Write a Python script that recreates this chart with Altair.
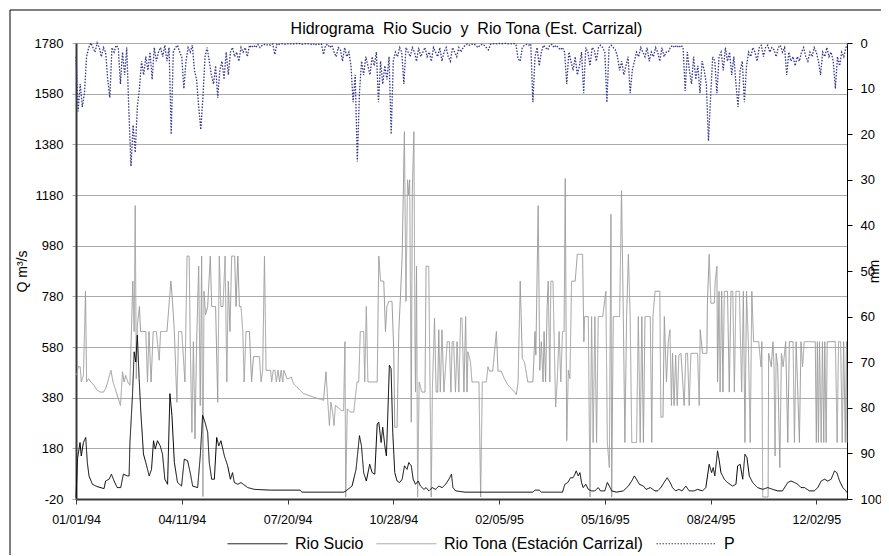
import altair as alt
import pandas as pd

INICIO = "1994-01-01"

# Rio Sucio (dia desde 01/01/94, caudal m3/s)
sucio = [(0,-15),(1.5,140),(3.8,203),(5,150),(7,203),(9.2,223),(10.7,124),(12.3,71),(15.5,38),(20,29),(26.5,21),(28,51),(31.3,58),(33.5,78),(36,51),(39,25),(42.3,25),(44.8,78),(48.6,71),(50.2,71),(51,203),(53.4,389),(55,561),(56.5,521),(58,627),(59.7,455),(61.3,323),(63.8,157),(66,124),(69.2,71),(71.4,97),(73.3,210),(74.9,177),(77,210),(79.6,190),(81.8,157),(84,58),(86.6,38),(88.8,396),(90.7,310),(93,124),(96,45),(99.8,31),(102.4,137),(105.5,131),(108,84),(110.3,31),(115,25),(117.5,150),(119.7,310),(122,283),(124.5,243),(126,124),(128.3,58),(130.8,58),(133,223),(135,190),(137,210),(140.3,150),(143.4,111),(146,58),(148,84),(149.7,45),(153,38),(156,45),(162.4,25),(168.7,18),(183.9,15),(212,15),(213.6,7),(253,7),(254.6,10),(261,31),(264.8,97),(268,230),(269.9,190),(272,84),(274.5,51),(277.7,117),(280,84),(282.5,78),(284.8,276),(286.3,283),(288.5,203),(290,263),(292,190),(293.5,150),(295,336),(296.3,508),(297.9,495),(299.5,243),(301.4,84),(303.6,51),(306,45),(308.4,58),(310.6,111),(313,97),(314.7,124),(317,111),(318.8,58),(321,38),(323.5,51),(325.7,31),(329,18),(331,25),(333.6,12),(336.8,25),(340,18),(343,31),(346.3,25),(349.5,38),(352.6,58),(355,78),(356.4,25),(359,12),(368,7),(432,7),(434,15),(438,15),(440,7),(460,7),(462.2,38),(465,45),(467.6,64),(470,64),(471.7,78),(473,91),(474.9,71),(476.5,84),(478,45),(479.6,25),(482,38),(484.4,18),(487.5,12),(490.6,12),(493.8,25),(496,12),(500,12),(502.4,45),(504.3,31),(506.5,12),(511,7),(517.5,12),(522.3,31),(525.4,51),(528,71),(530,58),(532.7,38),(536.5,31),(539,18),(543,25),(547.5,12),(549.8,12),(553,25),(556,45),(559,64),(561.8,45),(564,25),(567,12),(570,18),(573,12),(576.6,31),(579.8,12),(584.5,12),(587.7,18),(592.4,12),(595.5,25),(598.7,117),(601,84),(602.5,104),(604,71),(606.6,170),(608,137),(609.8,84),(613,58),(616,45),(620.8,31),(624,38),(625.6,111),(628,117),(630.4,58),(632.5,157),(634.4,144),(636.6,71),(639.8,45),(644.5,25),(649.3,18),(654,25),(658.8,18),(663.5,12),(668,12),(673,45),(676.1,51),(679.3,45),(682.5,38),(685.5,25),(688.8,25),(693.5,12),(698,12),(701.4,25),(704.6,51),(707.7,58),(710.9,51),(714,58),(717.2,91),(719.4,84),(722,51),(725,25),(728,12),(729,5)]

# Rio Tona, Estacion Carrizal (dia, caudal m3/s)
tona = [(0,468),(1,475),(2,502),(4,502),(5,442),(7,468),(9,800),(10,442),(12,455),(14,442),(17,429),(20,409),(23,402),(26,402),(28,416),(30,442),(33,488),(35,442),(37,416),(40,376),(42,349),(44,482),(45.5,442),(47,468),(49,442),(51,429),(52,588),(53.7,840),(55,641),(56,1138),(57,455),(58,667),(60,740),(61,641),(63,641),(66,641),(67.6,442),(69,641),(71,442),(73,641),(76,641),(78.7,528),(80,641),(83,641),(86,641),(89.7,840),(91,774),(93,641),(95.4,362),(97,641),(100,641),(103,442),(105,939),(107,939),(108,601),(109.6,243),(111,601),(112.5,217),(114,588),(116,899),(117.5,349),(118.8,939),(120,-10),(121,800),(122.5,707),(124.5,740),(127,939),(128.3,740),(132,740),(134,362),(135.5,939),(137,740),(139,740),(141,939),(142.6,442),(144,840),(145.6,641),(147.2,939),(150,939),(151.3,740),(153,939),(154.5,740),(156,740),(157.7,641),(159,442),(160.7,641),(164,641),(166,442),(167.8,542),(173.4,542),(175,442),(176.5,488),(178.2,939),(179.7,488),(184,488),(185,442),(186.5,488),(188,488),(189.5,442),(191,488),(192.5,442),(194,488),(195.5,442),(196.5,488),(197.8,475),(199.4,455),(201.5,455),(203.5,462),(205.7,435),(208.8,422),(212,409),(215.2,396),(219.9,389),(224.6,382),(229,376),(232.5,373),(234,369),(236.4,482),(238,369),(239.6,270),(241,362),(242.6,323),(244,270),(245.2,349),(247.4,343),(249,336),(250.9,329),(253,329),(254.3,601),(255,-12),(256.5,336),(259.4,323),(262.6,323),(264,376),(265.7,442),(267.3,442),(268.8,641),(272,641),(273,442),(274.5,740),(276,442),(284.8,442),(286.3,939),(288,840),(291,840),(292.6,641),(294,740),(295.7,760),(298.8,760),(300.4,575),(301.4,263),(303.6,263),(305.2,641),(306.8,780),(308.4,939),(310.5,1430),(312,760),(313.5,1240),(314.5,1180),(315.5,1240),(317,283),(318,1200),(319.5,1430),(320.5,600),(321,402),(322,899),(323,-12),(324.5,442),(327,402),(330,402),(331,899),(333.5,899),(335.9,-12),(337,416),(339,694),(340.5,402),(342,402),(343,648),(344.5,402),(346,648),(347.9,402),(351,601),(353,601),(354.5,402),(355.7,601),(357,601),(358.8,402),(360.3,601),(362,402),(363.7,694),(365,694),(366.8,402),(368.4,700),(369.7,402),(370.6,561),(373,521),(374.4,442),(381,442),(382.6,-12),(384.2,442),(388,442),(389.5,502),(391,485),(394,485),(397.5,641),(399,485),(402,485),(405,455),(408.5,429),(411.7,416),(414.8,402),(416.4,392),(418,442),(420,840),(422,535),(424,521),(427.2,442),(432,442),(434,641),(434.8,548),(437,1138),(438.5,488),(440,601),(441.6,442),(442.6,641),(444,442),(445.5,740),(446.5,840),(448,442),(449,840),(451,840),(453.5,343),(455,442),(456.8,641),(458.4,442),(460,641),(461.5,641),(462.6,1245),(464,210),(465.5,488),(467,455),(468.6,840),(472,840),(474,946),(479,946),(480.2,601),(481,700),(484.4,700),(486,-12),(487.5,700),(489,203),(490.6,700),(492.2,203),(493.8,700),(498,700),(501,800),(502.4,203),(504.3,104),(505.8,1104),(506.5,-12),(508,700),(514,700),(515.8,1197),(517.5,700),(519,203),(520.6,700),(522.3,946),(524,700),(525.5,203),(530,203),(531.7,700),(533.5,203),(535,700),(536.5,203),(538,700),(543,700),(544.4,203),(545.5,700),(547.5,800),(552,800),(553,303),(555,303),(556.3,700),(558.3,442),(560,601),(561.6,648),(563,349),(564,555),(565.5,349),(567,548),(568.5,349),(570,548),(572,555),(573.5,455),(575,349),(576.6,555),(578.2,555),(579.8,349),(581.4,555),(587.7,555),(589.3,349),(590.2,648),(592.4,555),(596.5,555),(597,753),(598.7,946),(600.3,753),(603.5,753),(604.4,840),(606,899),(606.6,442),(608,800),(609,402),(610.5,800),(611.7,402),(613,800),(616,800),(617.7,402),(619.3,800),(621,800),(622.5,402),(624,800),(627.2,800),(629.4,402),(631,800),(632.5,203),(634,800),(635.7,601),(637.5,203),(639,800),(640.7,601),(645.5,601),(647.7,502),(648.5,601),(649.3,-12),(654.4,-12),(654.9,555),(657.4,502),(659,601),(660,502),(661,150),(662,555),(663.5,502),(665.5,104),(667,555),(668.6,502),(671,601),(673,203),(674.5,601),(678,601),(679.3,203),(680.9,601),(684,203),(685.5,601),(687,502),(688.5,601),(699,601),(700,203),(701,601),(702,203),(703,601),(704.6,203),(705.8,601),(707,203),(708,601),(709.3,203),(710.3,601),(718,601),(719.7,203),(721,601),(723,601),(724.5,203),(725.8,601),(727.4,203),(728.5,601),(729,203)]

# Precipitacion P (mm), un valor cada 2 dias desde 01/01/94
P_PASO = 2
p_mm = [3, 15, 9, 14, 11, 3, 1, 0, 1, 2,
        0, 1, 3, 1, 2, 8, 12, 1, 2, 0.5,
        1, 9, 2, 7, 1, 15, 27, 18, 24, 14,
        10, 4, 7, 3, 6, 2, 8, 1, 4, 2,
        1, 3, 0.5, 4, 1, 20, 2, 1, 0.5, 2,
        3, 10, 4, 1, 2, 0.5, 6, 8, 14, 19,
        12, 3, 1, 4, 7, 9, 5, 12, 6, 4,
        8, 2, 7, 2, 1, 3, 2, 4, 1, 2,
        1, 3, 0.5, 1, 0.5, 1, 0.3, 1, 0.5, 0.3,
        0.5, 0.3, 0.5, 0.2, 2.5, 0.2, 0.3, 0.2, 0.1, 0.3,
        0.2, 0.1, 0.3, 0.2, 0.1, 0.2, 0.1, 0.3, 0.2, 0.1,
        0.2, 0.3, 0.1, 0.5, 0.2, 0.3, 0.2, 2.5, 0.5, 0.3,
        1, 0.5, 2, 3, 1, 1.5, 4, 1, 3, 2,
        5, 13, 7, 26, 11, 4, 7, 3, 5, 7,
        3, 5, 2, 13, 4, 9, 5, 8, 3, 20,
        4, 2, 3, 1, 2, 9, 1, 2, 3, 1,
        2, 4, 1, 3, 2, 1, 3, 2, 4, 1,
        2, 3, 1, 4, 2, 1, 3, 4, 1, 2,
        3, 1, 2, 1, 0.5, 0.2, 0.5, 0.3, 0.2, 0.5,
        1, 0.5, 0.3, 0.5, 1, 1.5, 0.3, 0.2, 0.1, 0.2,
        0.1, 0.2, 0.1, 0.1, 0.2, 0.1, 0.2, 0.1, 0.3, 3.5,
        4, 1, 0.5, 0.3, 0.5, 0.2, 13, 3, 1, 5,
        2, 0.5, 1, 1.5, 0.5, 0.3, 1, 0.5, 1, 1.5,
        1, 2, 9, 2, 4, 6, 3, 7, 5, 2,
        11, 1, 2, 5, 1, 1.5, 4, 1, 0.5, 1,
        2, 13, 1, 0.5, 1, 1.5, 3, 6, 4, 7,
        5, 3, 11, 6, 4, 2, 3, 1, 2, 3,
        1, 4, 2, 3, 1, 2, 4, 1, 3, 2,
        2, 1, 0.5, 1, 0.5, 1, 0.5, 1, 10.5, 2,
        6, 9, 3, 8, 5, 11, 4, 6, 9, 21.5,
        12, 3, 4, 11, 3, 2, 6, 1, 4, 2,
        7, 3, 9, 14, 6, 4, 13, 5, 2, 3,
        1, 2, 4, 1, 0.5, 3, 1, 0.5, 2, 1,
        1.5, 3, 1, 0.5, 2, 1, 7, 2, 4, 3,
        5, 3, 4, 2, 1, 3, 4, 2, 3, 1,
        2, 4, 7, 2, 3, 1, 3, 2, 4, 10,
        3, 5, 2, 3, 1, 0]

fechas_eje = ["1994-01-01", "1994-04-11", "1994-07-20", "1994-10-28",
              "1995-02-05", "1995-05-16", "1995-08-24", "1995-12-02"]
q_ticks = [-20, 180, 380, 580, 780, 980, 1180, 1380, 1580, 1780]
p_ticks = [0, 10, 20, 30, 40, 50, 60, 70, 80, 90, 100]

series = ["Rio Sucio", "Rio Tona (Estación Carrizal)", "P"]
colores = ["#000000", "#9c9c9c", "#34348c"]
trazos = [[1, 0], [1, 0], [1.5, 1.5]]

TITULO = "Hidrograma\u00a0 Rio Sucio\u00a0 y\u00a0 Rio Tona (Est. Carrizal)"

FONT = "Liberation Sans"
t0 = pd.Timestamp(INICIO)


def tabla(pares, nombre):
    d = pd.DataFrame(pares, columns=["dia", "valor"])
    d["fecha"] = t0 + pd.to_timedelta(d["dia"], unit="D")
    d["serie"] = nombre
    return d[["fecha", "valor", "serie"]]


df_sucio = tabla(sucio, series[0])
df_tona = tabla(tona, series[1])
df_p = tabla([(i * P_PASO, v) for i, v in enumerate(p_mm)], series[2])


def dt(s):
    y, m, d = [int(v) for v in s.split("-")]
    return alt.DateTime(year=y, month=m, date=d)


x_enc = alt.X(
    "fecha:T",
    scale=alt.Scale(domain=[dt("1994-01-01"), dt("1995-12-31")], nice=False),
    axis=alt.Axis(values=[dt(s) for s in fechas_eje], format="%m/%d/%y",
                  title=None, grid=False, labelFontSize=12.5, labelFont=FONT,
                  labelColor="black", tickColor="#3a3a3a", tickSize=5,
                  labelPadding=9, domainColor="#3a3a3a", domainWidth=2,
                  labelFlush=False),
)

color_enc = alt.Color("serie:N", scale=alt.Scale(domain=series, range=colores), title=None)
dash_enc = alt.StrokeDash("serie:N", scale=alt.Scale(domain=series, range=trazos), title=None)

y_q = alt.Y(
    "valor:Q",
    scale=alt.Scale(domain=[-20, 1780], nice=False, zero=False),
    axis=alt.Axis(values=q_ticks,
                  labelExpr="datum.value < 0 ? '-' + abs(datum.value) : '' + datum.value",
                  title="Q m³/s", titleFontSize=14,
                  titleFont=FONT, titleFontWeight="normal", titleColor="black",
                  titlePadding=5,
                  labelFontSize=13, labelFont=FONT, labelColor="black",
                  grid=True, gridColor="#ababab", gridWidth=1,
                  tickSize=4, tickColor="#ababab", labelPadding=9,
                  domainColor="#3a3a3a", domainWidth=2, orient="left"),
)

y_p = alt.Y(
    "valor:Q",
    scale=alt.Scale(domain=[0, 100], reverse=True, nice=False, zero=False),
    axis=alt.Axis(values=p_ticks, format="d", title="mm", titleFontSize=14,
                  titleFont=FONT, titleFontWeight="normal", titleColor="black",
                  titlePadding=0, titleAngle=270,
                  labelFontSize=13, labelFont=FONT, labelColor="black",
                  grid=False, tickSize=5, tickColor="black", labelPadding=8,
                  domainColor="black", domainWidth=1, orient="right"),
)

l_tona = alt.Chart(df_tona).mark_line(strokeWidth=1, interpolate="linear").encode(
    x=x_enc, y=y_q, color=color_enc, strokeDash=dash_enc)
l_sucio = alt.Chart(df_sucio).mark_line(strokeWidth=1, interpolate="linear").encode(
    x=x_enc, y=y_q, color=color_enc, strokeDash=dash_enc)
l_p = alt.Chart(df_p).mark_line(strokeWidth=1.3, interpolate="linear").encode(
    x=x_enc, y=y_p, color=color_enc, strokeDash=dash_enc)

marco = alt.Chart(pd.DataFrame({"k": [0]})).mark_rect(
    filled=False, stroke="black", strokeWidth=1).encode(
    x=alt.value(-66), x2=alt.value(900), y=alt.value(-33), y2=alt.value(600))

izq = alt.layer(l_tona, l_sucio)
der = alt.layer(l_p)

chart = alt.layer(marco, izq, der).resolve_scale(y="independent").properties(
    width=771, height=456,
    title=alt.TitleParams(TITULO,
                          fontSize=16, font=FONT, fontWeight="normal",
                          color="black", anchor="middle", offset=-27, dx=5),
    autosize=alt.AutoSizeParams(type="none"),
    padding={"left": 68, "top": 35, "right": 34, "bottom": 56},
    background="white",
).configure_view(stroke=None).configure_legend(
    orient="none", legendX=151, legendY=470, direction="horizontal", columns=3,
    symbolType="stroke", symbolSize=3600, symbolStrokeWidth=1,
    labelFontSize=16, labelFont=FONT, labelColor="black", labelLimit=0,
    columnPadding=10, labelOffset=7, padding=0, titlePadding=0,
)

chart.save("out.html", embed_options={"renderer": "svg", "actions": False})
